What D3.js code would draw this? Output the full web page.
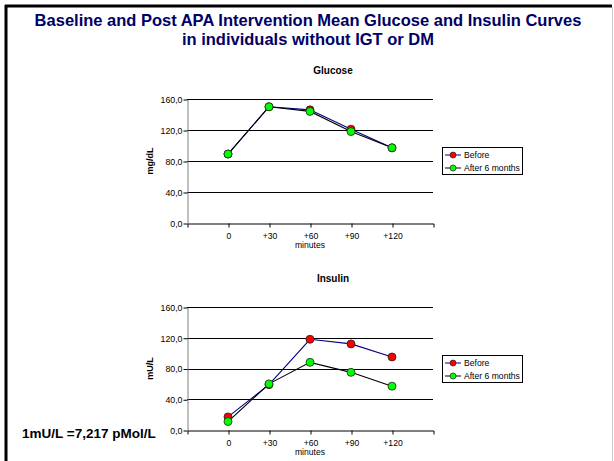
<!DOCTYPE html>
<html><head><meta charset="utf-8">
<script src="https://d3js.org/d3.v7.min.js"></script>
<style>body{margin:0;background:#fff;} svg{display:block;font-family:Arial,"Liberation Sans",sans-serif;} text{fill:#000;}</style>
</head><body>
<script>
const categories = ["0","+30","+60","+90","+120"];
const yTicks = [0,40,80,120,160];
const seriesNames = ["Before","After 6 months"];
const glucoseBefore = [89,150,146,121,97];
const glucoseAfter = [89,150,144,118,97];
const insulinBefore = [17,59,118,112,95];
const insulinAfter = [11,60,88,75,57];

const W=614,H=461;
const FONT="Arial,'Liberation Sans',sans-serif";
const svg=d3.select("body").append("svg").attr("width",W).attr("height",H);

// frame
svg.append("line").attr("x1",5).attr("x2",612).attr("y1",6).attr("y2",6).attr("stroke","#000").attr("stroke-width",3);
svg.append("line").attr("x1",6).attr("x2",6).attr("y1",5).attr("y2",H).attr("stroke","#000").attr("stroke-width",3);
svg.append("line").attr("x1",612.5).attr("x2",612.5).attr("y1",7).attr("y2",H).attr("stroke","#ccc").attr("stroke-width",1);

// title
const title=svg.append("text").attr("text-anchor","middle").style("fill","#000066")
  .style("font-size","16.5px").style("font-weight","bold");
title.append("tspan").attr("x",308).attr("y",26).text("Baseline and Post APA Intervention Mean Glucose and Insulin Curves");
title.append("tspan").attr("x",308).attr("y",45).text("in individuals without IGT or DM");

svg.append("text").attr("x",22).attr("y",438).style("font-size","13.5px").style("font-weight","bold").text("1mU/L =7,217 pMol/L");

const fmt=v=>d3.format(".1f")(v).replace(".",",");
const colors={line:["#000080","#000000"],fill:["#ff0000","#00ff00"]};

function panel(top0,bottom0,titleText,ylabel,before,after,legendTop){
  const x=d3.scalePoint().domain(categories).range([187,433]).padding(1);
  const y=d3.scaleLinear().domain([0,160]).range([bottom0,top0]);
  const g=svg.append("g");
  g.append("text").attr("x",333).attr("y",top0-25).attr("text-anchor","middle")
    .style("font-size","10px").style("font-weight","bold").text(titleText);
  // gridlines
  g.selectAll(".grid").data(yTicks.filter(d=>d>0)).join("line")
    .attr("x1",187).attr("x2",433).attr("y1",d=>Math.round(y(d))+0.5).attr("y2",d=>Math.round(y(d))+0.5)
    .attr("stroke","#000").attr("stroke-width",1);
  // y axis
  const ya=g.append("g").attr("transform","translate(187.5,0.5)")
    .call(d3.axisLeft(y).tickValues(yTicks).tickFormat(fmt).tickSize(4).tickSizeOuter(0));
  ya.select(".domain").attr("stroke","#808080");
  ya.selectAll("text").style("font-size","8.8px").style("font-family",FONT).style("fill","#000").attr("x",-5);
  ya.selectAll("line").attr("stroke","#000");
  // x axis
  const xa=g.append("g").attr("transform",`translate(0.5,${Math.round(bottom0)+0.5})`)
    .call(d3.axisBottom(x).tickSize(4).tickSizeOuter(4));
  xa.select(".domain").attr("stroke","#000");
  xa.selectAll("line").attr("stroke","#000");
  xa.selectAll("text").style("font-size","8.6px").style("font-family",FONT).style("fill","#000").attr("y",9);
  g.append("text").attr("x",310).attr("y",bottom0+25).attr("text-anchor","middle").style("font-size","8.6px").style("fill","#000").text("minutes");
  g.append("text").attr("transform",`translate(153,${(top0+bottom0)/2}) rotate(-90)`).attr("text-anchor","middle")
    .style("font-size","9px").style("font-weight","bold").text(ylabel);
  // series
  [before,after].forEach((vals,i)=>{
    const line=d3.line().x((d,j)=>x(categories[j])).y(d=>y(d));
    g.append("path").datum(vals).attr("d",line).attr("fill","none").attr("stroke",colors.line[i]).attr("stroke-width",1.1);
  });
  [before,after].forEach((vals,i)=>{
    g.selectAll(null).data(vals).join("circle").attr("cx",(d,j)=>x(categories[j])).attr("cy",d=>y(d))
      .attr("r",4).attr("fill",colors.fill[i]).attr("stroke","#222").attr("stroke-width",0.8);
  });
  // legend
  const lg=g.append("g");
  lg.append("rect").attr("x",442.5).attr("y",legendTop+0.5).attr("width",80).attr("height",27).attr("fill","#fff").attr("stroke","#000").attr("stroke-width",1);
  seriesNames.forEach((n,i)=>{
    const cy=legendTop+8+i*13;
    lg.append("line").attr("x1",445).attr("x2",461).attr("y1",cy).attr("y2",cy).attr("stroke",colors.line[i]).attr("stroke-width",1);
    lg.append("circle").attr("cx",453).attr("cy",cy).attr("r",3).attr("fill",colors.fill[i]).attr("stroke","#222").attr("stroke-width",0.7);
    lg.append("text").attr("x",464).attr("y",cy+3).style("font-size","8.6px").text(n);
  });
}

panel(99,223,"Glucose","mg/dL",glucoseBefore,glucoseAfter,147);
panel(307,430,"Insulin","mU/L",insulinBefore,insulinAfter,355);
</script>
</body></html>
